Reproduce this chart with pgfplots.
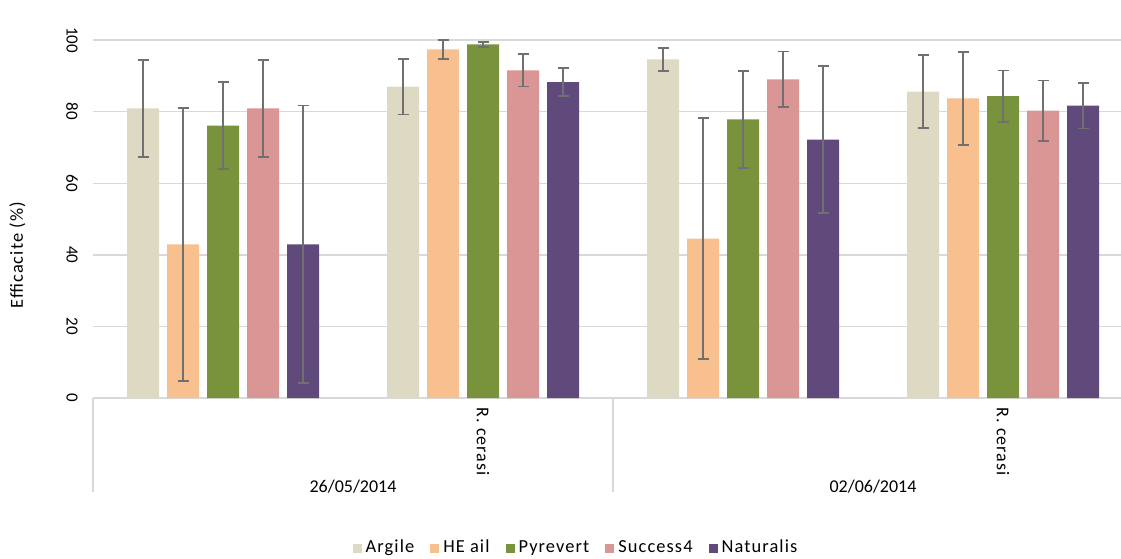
\documentclass[border=0pt]{standalone}
\usepackage{pgfplots}
\pgfplotsset{compat=1.18}
\usepackage{pgfplotstable}
\usepackage{fontspec}
\setmainfont{Carlito}
\newfontfamily\spaced{Carlito}[LetterSpace=6]
\definecolor{cArg}{HTML}{DDD9C3}
\definecolor{cHE}{HTML}{F9C08F}
\definecolor{cPyr}{HTML}{78933C}
\definecolor{cSuc}{HTML}{D99694}
\definecolor{cNat}{HTML}{604A7B}
\definecolor{gridc}{HTML}{D9D9D9}
\definecolor{errc}{HTML}{707070}

\pgfplotstableread{
x A Ae H He P Pe S Se N Ne
0 80.9 13.5 42.9 38.1 76.1 12.1 80.9 13.5 42.9 38.8
1 87.0 7.8 97.4 2.6 98.8 0.7 91.5 4.5 88.2 3.9
2 94.6 3.2 44.5 33.7 77.8 13.6 89.0 7.8 72.2 20.5
3 85.6 10.2 83.7 13.0 84.3 7.2 80.3 8.4 81.7 6.4
}\data

\begin{document}
\begin{tikzpicture}
\path[use as bounding box] (-46.5pt,-80pt) rectangle (514pt,199pt);
\begin{axis}[
  at={(0,0)}, anchor=south west,
  scale only axis, width=514pt, height=179pt,
  xmin=-0.5, xmax=3.4538, ymin=0, ymax=100,
  ytick={0,20,...,100}, xtick=\empty,
  ymajorgrids, grid style={color=gridc, line width=0.7pt},
  axis line style={draw=none}, major tick length=0pt,
  /pgf/number format/assume math mode=true,
  yticklabel style={xshift=-10.5pt, rotate=-90, anchor=center, font=\fontsize{8.5}{10}\selectfont},
  ylabel={\spaced Efficacite (\%)},
  ylabel style={at={(rel axis cs:-0.0735,0.3994)}, anchor=center, font=\fontsize{9.2}{11}\selectfont},
  clip=false, ybar, bar width=16pt,
  error bars/y dir=both, error bars/y explicit,
  error bars/error bar style={color=errc, line width=0.9pt},
  error bars/error mark options={rotate=90, mark size=2.75pt, line width=0.9pt, color=errc},
  legend style={at={(rel axis cs:0.4708,0)}, yshift=-75pt, anchor=center, draw=none,
    font=\spaced\fontsize{9.2}{11}\selectfont,
    /tikz/every even column/.append style={column sep=6pt}},
  legend columns=5,
  legend image code/.code={\fill[#1] (0pt,-2.25pt) rectangle (4.5pt,2.25pt);},
]
\addplot[fill=cArg, draw=none, bar shift=-40pt] table[x=x, y=A, y error=Ae] {\data};
\addplot[fill=cHE, draw=none, bar shift=-20pt] table[x=x, y=H, y error=He] {\data};
\addplot[fill=cPyr, draw=none, bar shift=0pt] table[x=x, y=P, y error=Pe] {\data};
\addplot[fill=cSuc, draw=none, bar shift=20pt] table[x=x, y=S, y error=Se] {\data};
\addplot[fill=cNat, draw=none, bar shift=40pt] table[x=x, y=N, y error=Ne] {\data};
\legend{Argile, HE ail, Pyrevert, Success4, Naturalis}
\draw[gridc, line width=0.9pt] (axis cs:-0.5,0) -- ++(0pt,-47pt);
\draw[gridc, line width=0.9pt] (axis cs:1.5,0) -- ++(0pt,-47pt);
\node[rotate=-90, anchor=west, inner sep=0pt, font=\spaced\fontsize{9}{11}\selectfont] at ([yshift=-4.5pt]axis cs:1,0) {R. cerasi};
\node[rotate=-90, anchor=west, inner sep=0pt, font=\spaced\fontsize{9}{11}\selectfont] at ([yshift=-4.5pt]axis cs:3,0) {R. cerasi};
\node[anchor=center, font=\fontsize{9}{11}\selectfont] at ([yshift=-44.5pt]axis cs:0.5,0) {26/05/2014};
\node[anchor=center, font=\fontsize{9}{11}\selectfont] at ([yshift=-44.5pt]axis cs:2.5,0) {02/06/2014};
\end{axis}
\end{tikzpicture}
\end{document}
